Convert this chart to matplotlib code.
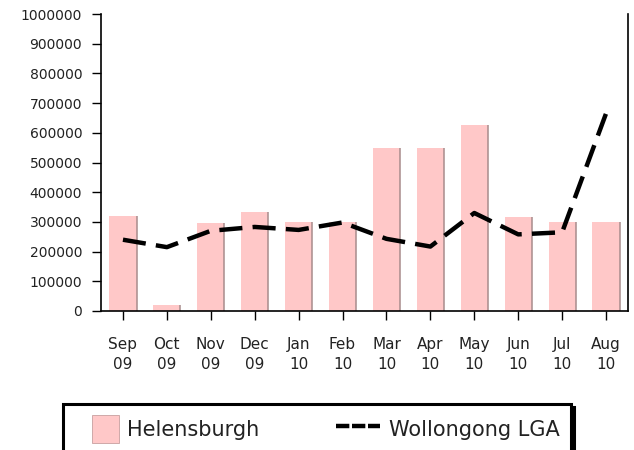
import matplotlib
matplotlib.use("Agg")
import matplotlib.pyplot as plt
from matplotlib.patches import Rectangle
from matplotlib.lines import Line2D
from matplotlib.legend_handler import HandlerPatch

# ---- data ----
months = ["Sep", "Oct", "Nov", "Dec", "Jan", "Feb", "Mar", "Apr", "May", "Jun", "Jul", "Aug"]
years = ["09", "09", "09", "09", "10", "10", "10", "10", "10", "10", "10", "10"]
helensburgh = [320000, 20000, 295000, 333000, 300000, 300000, 549000, 549000, 626000, 317000, 300000, 300000]
wollongong = [240000, 215000, 270000, 283000, 273000, 298000, 243000, 217000, 330000, 258000, 265000, 665000]
yticks = [0, 100000, 200000, 300000, 400000, 500000, 600000, 700000, 800000, 900000, 1000000]
series_names = ["Helensburgh", "Wollongong LGA"]

plt.rcParams["font.family"] = ["DejaVu Sans"]

W, H = 634, 450
fig = plt.figure(figsize=(W / 100, H / 100), dpi=100)
ax = fig.add_axes([101 / W, 1 - 311 / H, 527 / W, 297 / H])

x = list(range(len(months)))
bars = ax.bar(x, helensburgh, width=0.62, color="#ffc8c8", edgecolor="none", zorder=2)
# darker right-edge shading of each bar
for b in bars:
    xr = b.get_x() + b.get_width()
    ax.plot([xr, xr], [0, b.get_height()], color="#a88c8c", lw=1.1, zorder=2.5, solid_capstyle="butt")

ax.plot(x, wollongong, color="black", lw=3.2, dashes=(5.2, 2.3), zorder=3,
        solid_joinstyle="round", dash_joinstyle="round")

ax.set_xlim(-0.5, len(months) - 0.5)
ax.set_ylim(0, 1000000)
ax.set_yticks(yticks)
ax.set_yticklabels([str(v) for v in yticks])
ax.set_xticks(x)
ax.set_xticklabels([f"{m}\n{y}" for m, y in zip(months, years)], linespacing=1.45)

ax.spines["top"].set_visible(False)
for s in ("left", "right", "bottom"):
    ax.spines[s].set_linewidth(1.2)
    ax.spines[s].set_color("black")

ax.tick_params(axis="y", length=6.5, width=1, pad=7, labelsize=10, colors="black")
ax.tick_params(axis="x", length=6.5, width=1, pad=12, labelsize=11, colors="black")
for lab in ax.get_yticklabels() + ax.get_xticklabels():
    lab.set_color("#222222")


def square_patch(legend, orig_handle, xdescent, ydescent, width, height, fontsize):
    s = height
    return Rectangle((-xdescent + width - s, -ydescent), s, s)


h_bar = Rectangle((0, 0), 1, 1, facecolor="#ffc8c8", edgecolor="#c8a0a0", lw=0.6)
h_line = Line2D([], [], color="black", lw=3.2, dashes=(3.0, 0.6))
leg = fig.legend([h_bar, h_line], series_names, loc="upper left",
                 bbox_to_anchor=(63 / W, 1 - 404 / H), bbox_transform=fig.transFigure,
                 ncol=2, fontsize=15, handlelength=2.14, handleheight=1.65,
                 handletextpad=0.4, columnspacing=3.65, borderpad=0.55, borderaxespad=0,
                 fancybox=False, framealpha=1, edgecolor="black",
                 shadow={"color": "black", "alpha": 1},
                 handler_map={Rectangle: HandlerPatch(patch_func=square_patch)})
leg.get_frame().set_linewidth(2.2)
for t in leg.get_texts():
    t.set_color("#222222")

fig.savefig("out.png", dpi=100)
